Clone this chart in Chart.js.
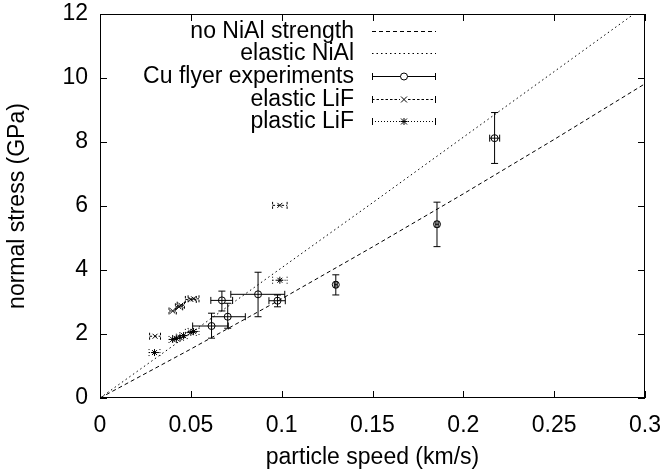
<!DOCTYPE html>
<html>
<head>
<meta charset="utf-8">
<script src="https://cdn.jsdelivr.net/npm/chart.js@4.4.1/dist/chart.umd.min.js"></script>
<style>
  html, body { margin: 0; padding: 0; background: #fff; }
</style>
</head>
<body>
<canvas id="stress_chart" width="666" height="473"></canvas>
<script>
// model curves
var uSpeed = [0, 0.05, 0.1, 0.15, 0.2, 0.25, 0.3];
var noStrength = [0, 1.53, 3.1, 4.72, 6.38, 8.08, 9.82];
var elasticNiAl = [0, 2.03, 4.07, 6.1, 8.15, 10.2, 12.25];

// Cu flyer experiments with error bars
var cuX     = [0.0614, 0.0703, 0.0671, 0.0870, 0.0977, 0.1298, 0.1855, 0.2172];
var cuY     = [2.25, 2.54, 3.05, 3.24, 3.04, 3.54, 5.43, 8.12];
var cuXLow  = [0.0510, 0.0614, 0.0610, 0.0720, 0.0930, 0.1290, 0.1845, 0.2145];
var cuXHigh = [0.0706, 0.0800, 0.0730, 0.1017, 0.1020, 0.1306, 0.1865, 0.2200];
var cuYLow  = [1.87, 2.18, 2.72, 2.54, 2.85, 3.22, 4.73, 7.33];
var cuYHigh = [2.65, 2.96, 3.34, 3.93, 3.22, 3.85, 6.12, 8.92];

// LiF window measurements (x error only)
var elasticX = [0.0303, 0.0400, 0.0435, 0.0445, 0.0500, 0.0515, 0.0990];
var elasticY = [1.93, 2.72, 2.85, 2.90, 3.08, 3.10, 6.02];
var elasticXErr = [0.003, 0.002, 0.002, 0.002, 0.003, 0.003, 0.004];
var plasticX = [0.0300, 0.0400, 0.0420, 0.0440, 0.0460, 0.0500, 0.0515, 0.0990];
var plasticY = [1.42, 1.83, 1.86, 1.90, 1.95, 2.05, 2.08, 3.68];
var plasticXErr = [0.003, 0.002, 0.002, 0.002, 0.002, 0.003, 0.003, 0.004];

var xTicks = [0, 0.05, 0.1, 0.15, 0.2, 0.25, 0.3];
var xTickLabels = ["0", "0.05", "0.1", "0.15", "0.2", "0.25", "0.3"];
var yTicks = [0, 2, 4, 6, 8, 10, 12];
var yTickLabels = ["0", "2", "4", "6", "8", "10", "12"];

var FONT = "'Liberation Sans', Arial, sans-serif";
var FSIZE = 23;
var DASH = [4, 3];
var DOT = [1.5, 3];

function pts(xs, ys) {
    return xs.map(function (x, i) { return { x: x, y: ys[i] }; });
}

var cuBars = cuX.map(function (x, i) {
    return { xl: cuXLow[i], xh: cuXHigh[i], yl: cuYLow[i], yh: cuYHigh[i], y: cuY[i], x: x };
});
var elasticBars = elasticX.map(function (x, i) {
    return { xl: x - elasticXErr[i], xh: x + elasticXErr[i], y: elasticY[i], x: x };
});
var plasticBars = plasticX.map(function (x, i) {
    return { xl: x - plasticXErr[i], xh: x + plasticXErr[i], y: plasticY[i], x: x };
});

function capLine(ctx, x1, y1, x2, y2) {
    ctx.beginPath();
    ctx.moveTo(x1, y1);
    ctx.lineTo(x2, y2);
    ctx.stroke();
}

function drawMarker(ctx, style, x, y, r) {
    ctx.setLineDash([]);
    ctx.beginPath();
    if (style === "circle") {
        ctx.arc(x, y, r, 0, Math.PI * 2);
    } else {
        var d = r * 0.85;
        ctx.moveTo(x - d, y - d); ctx.lineTo(x + d, y + d);
        ctx.moveTo(x - d, y + d); ctx.lineTo(x + d, y - d);
        if (style === "star") {
            ctx.moveTo(x - r, y); ctx.lineTo(x + r, y);
            ctx.moveTo(x, y - r); ctx.lineTo(x, y + r);
        }
    }
    ctx.stroke();
}

var errorBars = {
    id: "errorBars",
    beforeDatasetsDraw: function (chart) {
        var ctx = chart.ctx, xs = chart.scales.x, ys = chart.scales.y;
        var cap = 3.5;
        ctx.save();
        ctx.strokeStyle = "#000";
        ctx.lineWidth = 1;
        chart.data.datasets.forEach(function (ds) {
            if (!ds.bars) return;
            ctx.setLineDash(ds.barDash || []);
            ds.bars.forEach(function (b) {
                var px = xs.getPixelForValue(b.x), py = ys.getPixelForValue(b.y);
                var xl = xs.getPixelForValue(b.xl), xh = xs.getPixelForValue(b.xh);
                capLine(ctx, xl, py, xh, py);
                capLine(ctx, xl, py - cap, xl, py + cap);
                capLine(ctx, xh, py - cap, xh, py + cap);
                if (b.yl !== undefined) {
                    var yl = ys.getPixelForValue(b.yl), yh = ys.getPixelForValue(b.yh);
                    capLine(ctx, px, yl, px, yh);
                    capLine(ctx, px - cap, yl, px + cap, yl);
                    capLine(ctx, px - cap, yh, px + cap, yh);
                }
            });
        });
        ctx.restore();
    }
};

// gnuplot style frame with inward ticks, plus the legend
var frame = {
    id: "frame",
    afterDraw: function (chart) {
        var ctx = chart.ctx, a = chart.chartArea;
        var xs = chart.scales.x, ys = chart.scales.y;
        var tl = 7;
        ctx.save();
        ctx.strokeStyle = "#000";
        ctx.lineWidth = 1;
        ctx.setLineDash([]);
        ctx.strokeRect(a.left + 0.5, a.top + 0.5, a.right - a.left - 1, a.bottom - a.top - 1);
        xTicks.forEach(function (v) {
            var p = Math.round(xs.getPixelForValue(v)) + 0.5;
            capLine(ctx, p, a.bottom, p, a.bottom - tl);
            capLine(ctx, p, a.top, p, a.top + tl);
        });
        yTicks.forEach(function (v) {
            var p = Math.round(ys.getPixelForValue(v)) + 0.5;
            capLine(ctx, a.left, p, a.left + tl, p);
            capLine(ctx, a.right, p, a.right - tl, p);
        });

        // legend
        var labelRight = a.left + 254, s0 = a.left + 272, s1 = a.left + 336;
        var mid = (s0 + s1) / 2, rowY = a.top + 16.5, step = 22.7;
        ctx.font = FSIZE + "px " + FONT;
        ctx.fillStyle = "#000";
        ctx.textAlign = "right";
        ctx.textBaseline = "middle";
        chart.data.datasets.forEach(function (ds, i) {
            var y = Math.round(rowY + i * step) + 0.5;
            ctx.fillText(ds.label, labelRight, y);
            ctx.setLineDash(ds.borderDash || ds.barDash || []);
            capLine(ctx, s0, y, s1, y);
            if (ds.bars) {
                ctx.setLineDash([]);
                capLine(ctx, s0 + 0.5, y - 3.5, s0 + 0.5, y + 3.5);
                capLine(ctx, s1 - 0.5, y - 3.5, s1 - 0.5, y + 3.5);
                ctx.fillStyle = "#fff";
                if (ds.marker === "circle") {
                    ctx.beginPath(); ctx.arc(mid, y, 3.5, 0, Math.PI * 2); ctx.fill();
                } else {
                    ctx.fillRect(mid - 4, y - 4, 8, 8);
                }
                ctx.fillStyle = "#000";
                drawMarker(ctx, ds.marker, mid, y, 3.5);
            }
        });
        ctx.restore();
    }
};

function noOverflow(axis) {
    axis.paddingTop = 0;
    axis.paddingBottom = 0;
    axis.paddingLeft = 0;
    axis.paddingRight = 0;
}

var ctx = document.getElementById("stress_chart");
var myChart = new Chart(ctx, {
    type: "scatter",
    data: {
        datasets: [
            {
                label: "no NiAl strength",
                data: pts(uSpeed, noStrength),
                showLine: true,
                borderColor: "#000",
                borderWidth: 1,
                borderDash: DASH,
                pointRadius: 0
            },
            {
                label: "elastic NiAl",
                data: pts(uSpeed, elasticNiAl),
                showLine: true,
                borderColor: "#000",
                borderWidth: 1,
                borderDash: DOT,
                pointRadius: 0
            },
            {
                label: "Cu flyer experiments",
                data: pts(cuX, cuY),
                bars: cuBars,
                marker: "circle",
                pointStyle: "circle",
                pointRadius: 3.5,
                borderColor: "#000",
                backgroundColor: "rgba(0,0,0,0)",
                borderWidth: 1
            },
            {
                label: "elastic LiF",
                data: pts(elasticX, elasticY),
                bars: elasticBars,
                barDash: [2.5, 2],
                marker: "crossRot",
                pointStyle: "crossRot",
                pointRadius: 3.5,
                borderColor: "#000",
                borderWidth: 1
            },
            {
                label: "plastic LiF",
                data: pts(plasticX, plasticY),
                bars: plasticBars,
                barDash: [1, 2],
                marker: "star",
                pointStyle: "star",
                pointRadius: 3.5,
                borderColor: "#000",
                borderWidth: 1
            }
        ]
    },
    options: {
        responsive: false,
        animation: false,
        layout: { padding: { left: 0, right: 21, top: 14, bottom: 0 } },
        plugins: {
            legend: { display: false },
            tooltip: { enabled: false }
        },
        scales: {
            x: {
                type: "linear",
                min: 0,
                max: 0.3,
                afterBuildTicks: function (axis) {
                    axis.ticks = xTicks.map(function (v) { return { value: v }; });
                },
                afterFit: function (axis) { axis.height = 75; noOverflow(axis); },
                grid: { display: false, drawTicks: false },
                border: { display: false },
                ticks: {
                    padding: 14,
                    color: "#000",
                    font: { family: FONT, size: FSIZE },
                    maxRotation: 0,
                    callback: function (v, i) { return xTickLabels[i]; }
                },
                title: {
                    display: true,
                    text: "particle speed (km/s)",
                    color: "#000",
                    font: { family: FONT, size: FSIZE },
                    padding: { top: 0, bottom: 2 }
                }
            },
            y: {
                type: "linear",
                min: 0,
                max: 12,
                afterBuildTicks: function (axis) {
                    axis.ticks = yTicks.map(function (v) { return { value: v }; });
                },
                afterFit: function (axis) { axis.width = 100; noOverflow(axis); },
                grid: { display: false, drawTicks: false },
                border: { display: false },
                ticks: {
                    padding: 12,
                    color: "#000",
                    font: { family: FONT, size: FSIZE },
                    callback: function (v, i) { return yTickLabels[i]; }
                },
                title: {
                    display: true,
                    text: "normal stress (GPa)",
                    color: "#000",
                    font: { family: FONT, size: FSIZE },
                    padding: { top: 4, bottom: 0 }
                }
            }
        }
    },
    plugins: [errorBars, frame]
});
</script>
</body>
</html>
